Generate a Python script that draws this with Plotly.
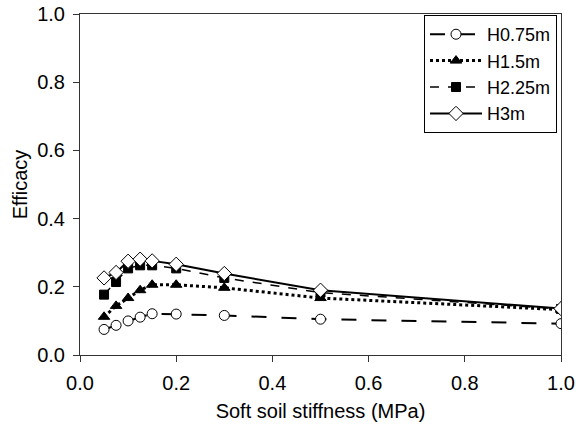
import plotly.graph_objects as go

stiffness = [0.05, 0.075, 0.1, 0.125, 0.15, 0.2, 0.3, 0.5, 1.0]
h075 = [0.075, 0.087, 0.100, 0.111, 0.121, 0.120, 0.116, 0.105, 0.092]
h15 = [0.112, 0.144, 0.167, 0.190, 0.206, 0.206, 0.197, 0.167, 0.133]
h225 = [0.177, 0.214, 0.254, 0.263, 0.263, 0.254, 0.226, 0.183, 0.135]
h3 = [0.226, 0.242, 0.275, 0.281, 0.276, 0.266, 0.239, 0.190, 0.136]

series = [
    ("H0.75m", h075, "longdash", "circle-open", 2),
    ("H1.5m", h15, "dot", "triangle-up", 3),
    ("H2.25m", h225, "dash", "square", 1.5),
    ("H3m", h3, "solid", "diamond-open", 2),
]

fig = go.Figure()
for name, ys, dash, sym, lw in series:
    if sym.endswith("open"):
        marker = dict(symbol=sym.replace("-open", ""), size=11 if "diamond" in sym else 10,
                      color="white", line=dict(color="black", width=1))
    else:
        marker = dict(symbol=sym, size=10 if sym == "triangle-up" else 9, color="black",
                      line=dict(color="black", width=1))
    fig.add_trace(go.Scatter(x=stiffness, y=ys, name=name, mode="lines+markers",
                             line=dict(color="black", dash=dash, width=lw),
                             marker=marker))

font = "Liberation Sans, Arial, sans-serif"
fig.update_layout(
    width=576, height=429,
    margin=dict(l=80, r=15, t=14, b=74),
    paper_bgcolor="white", plot_bgcolor="white",
    font=dict(family=font, size=18, color="black"),
    showlegend=True,
    legend=dict(x=0.9917, y=0.997, xanchor="right", yanchor="top",
                bordercolor="black", borderwidth=1, bgcolor="white",
                font=dict(size=18), itemwidth=52, tracegroupgap=0),
)
axis_common = dict(showgrid=False, zeroline=False, showline=True, linecolor="#333",
                   linewidth=1, mirror=True, ticks="outside", ticklen=6,
                   tickcolor="#333", tickfont=dict(size=20), automargin=False)
fig.update_xaxes(range=[0, 1], dtick=0.2, tickformat=".1f", ticklabelstandoff=4,
                 title=dict(text="Soft soil stiffness (MPa)", font=dict(size=20), standoff=10),
                 **axis_common)
fig.update_yaxes(range=[0, 1], dtick=0.2, tickformat=".1f", ticklabelstandoff=4,
                 title=dict(text="Efficacy", font=dict(size=20), standoff=4),
                 **axis_common)

fig.write_html("out.html")
